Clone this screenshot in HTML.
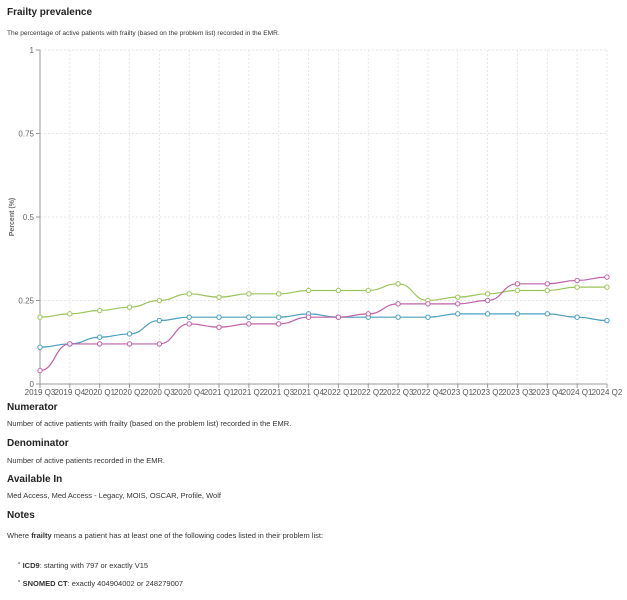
<!DOCTYPE html>
<html><head><meta charset="utf-8"><style>
body{margin:0;width:627px;height:600px;background:#fff;font-family:"Liberation Sans",sans-serif;color:#222;position:relative;overflow:hidden}
.t{position:absolute;left:7px;white-space:nowrap}
.h{font-weight:bold;font-size:10px}
.p{font-size:7.5px;color:#333}
</style></head><body>
<div class="t h" style="top:7px;font-size:10px">Frailty prevalence</div>
<div class="t p" style="top:30px;font-size:6.6px">The percentage of active patients with frailty (based on the problem list) recorded in the EMR.</div>
<svg id="c" width="627" height="400" style="position:absolute;left:0;top:0" font-family="Liberation Sans, sans-serif"></svg>
<div class="t h" style="top:402px">Numerator</div>
<div class="t p" style="top:419px">Number of active patients with frailty (based on the problem list) recorded in the EMR.</div>
<div class="t h" style="top:438px">Denominator</div>
<div class="t p" style="top:456px">Number of active patients recorded in the EMR.</div>
<div class="t h" style="top:474px">Available In</div>
<div class="t p" style="top:491px">Med Access, Med Access - Legacy, MOIS, OSCAR, Profile, Wolf</div>
<div class="t h" style="top:510px">Notes</div>
<div class="t p" style="top:531px">Where <b>frailty</b> means a patient has at least one of the following codes listed in their problem list:</div>
<div class="t p" style="top:561px;left:18px">˚ <b>ICD9</b>: starting with 797 or exactly V15</div>
<div class="t p" style="top:579px;left:18px">˚ <b>SNOMED CT</b>: exactly 404904002 or 248279007</div>
<script>
const s=document.getElementById('c');let h='';
const X=i=>40+i*29.84,Y=v=>384-v*334;
for(let i=1;i<20;i++)h+=`<line x1="${X(i)}" y1="50" x2="${X(i)}" y2="384" stroke="#ddd" stroke-dasharray="2,2" stroke-width="0.7"/>`;
[0.25,0.5,0.75,1].forEach(v=>h+=`<line x1="40" y1="${Y(v)}" x2="607" y2="${Y(v)}" stroke="#ddd" stroke-dasharray="2,2" stroke-width="0.7"/>`);
h+=`<line x1="40" y1="50" x2="40" y2="384" stroke="#999"/><line x1="40" y1="384" x2="607" y2="384" stroke="#999"/>`;
[[0,'0'],[0.25,'0.25'],[0.5,'0.5'],[0.75,'0.75'],[1,'1']].forEach(([v,t])=>h+=`<line x1="36" x2="40" y1="${Y(v)}" y2="${Y(v)}" stroke="#999"/><text x="34" y="${Y(v)+3}" font-size="8" fill="#666" text-anchor="end">${t}</text>`);
const labs=[];for(let y=2019,q=3;labs.length<20;){labs.push(y+' Q'+q);q++;if(q>4){q=1;y++;}}
labs.forEach((l,i)=>h+=`<line x1="${X(i)}" x2="${X(i)}" y1="384" y2="388" stroke="#999"/><text x="${X(i)}" y="395" font-size="8" fill="#555" text-anchor="middle">${l}</text>`);
h+=`<text transform="translate(14,217) rotate(-90)" font-size="7" fill="#666" font-weight="bold" text-anchor="middle">Percent (%)</text>`;
const D=[['#9cc45a',[.20,.21,.22,.23,.25,.27,.26,.27,.27,.28,.28,.28,.30,.25,.26,.27,.28,.28,.29,.29]],
['#4a9fc0',[.11,.12,.14,.15,.19,.20,.20,.20,.20,.21,.20,.20,.20,.20,.21,.21,.21,.21,.20,.19]],
['#c062a8',[.04,.12,.12,.12,.12,.18,.17,.18,.18,.20,.20,.21,.24,.24,.24,.25,.30,.30,.31,.32]]];
D.forEach(([c,d])=>{let p=`M${X(0)},${Y(d[0])}`;for(let i=1;i<d.length;i++){const x0=X(i-1),x1=X(i),m=(x1-x0)/2;p+=` C${x0+m},${Y(d[i-1])} ${x1-m},${Y(d[i])} ${x1},${Y(d[i])}`;}
h+=`<path d="${p}" fill="none" stroke="${c}" stroke-width="1.2"/>`;d.forEach((v,i)=>h+=`<circle cx="${X(i)}" cy="${Y(v)}" r="2.2" fill="#fff" stroke="${c}" stroke-width="1"/>`);});
s.innerHTML=h;
</script>
</body></html>
